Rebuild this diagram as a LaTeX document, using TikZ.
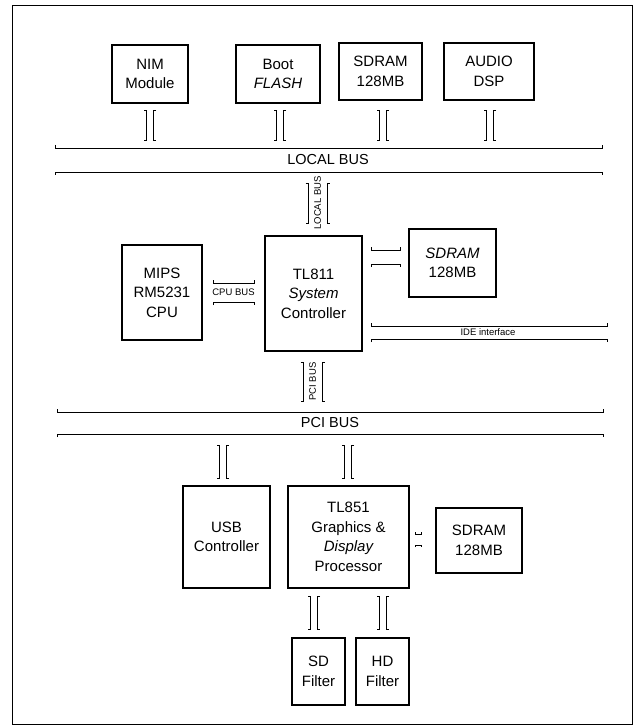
\documentclass[tikz,border=0pt]{standalone}
\usepackage{fontspec}
\setmainfont{Liberation Sans}
\newcommand\HBus[4]{% x1 x2 ytop ybot
  \draw[wire] (#1,#3-3)--(#1,#3)--(#2,#3)--(#2,#3-3);
  \draw[wire] (#1,#4+3)--(#1,#4)--(#2,#4)--(#2,#4+3);}
\newcommand\VBus[5]{% xl xr y1 y2 label
  \draw[wire] (#1-2.5,#3)--(#1,#3)--(#1,#4)--(#1-2.5,#4);
  \draw[wire] (#2+2.5,#3)--(#2,#3)--(#2,#4)--(#2+2.5,#4);
  \node[small,rotate=90] at ({(#1+#2)/2},{(#3+#4)/2}) {#5};}
\begin{document}
\begin{tikzpicture}[x=1pt,y=-1pt,
  box/.style={draw,line width=1.1pt,align=center,inner sep=0pt,font=\fontsize{15}{19.5}\selectfont},
  lbl/.style={font=\fontsize{14.5}{16}\selectfont,inner sep=0pt},
  small/.style={font=\fontsize{9.5}{11}\selectfont,inner sep=0pt},
  wire/.style={line width=0.8pt},
]
\useasboundingbox (0,0) rectangle (637,727);
\draw[line width=1pt] (12,6) rectangle (632,724);

% top row
\node[box,minimum width=76pt,minimum height=58pt] (nim) at (150,74) {NIM\\Module};
\node[box,minimum width=84pt,minimum height=58pt] (boot) at (278,74) {Boot\\\itshape FLASH};
\node[box,minimum width=83pt,minimum height=57pt] (sdramA) at (380.5,71.5) {SDRAM\\128MB};
\node[box,minimum width=90pt,minimum height=57pt] (audio) at (489,71.5) {AUDIO\\DSP};

\VBus{146.5}{153.5}{110}{140}{}
\VBus{276.5}{283.5}{110}{140}{}
\VBus{379.5}{386.5}{110}{140}{}
\VBus{486.5}{493.5}{110}{140}{}

% local bus
\HBus{55}{602}{148}{172}
\node[lbl] (lbus) at (328,160) {LOCAL BUS};
\VBus{308}{327}{183}{223}{LOCAL BUS}

% middle
\node[box,minimum width=97pt,minimum height=115pt] (tl811) at (313.5,293.5) {TL811\\\itshape System\\Controller};
\node[box,minimum width=80pt,minimum height=95pt] (mips) at (162,292.5) {MIPS\\RM5231\\CPU};
\node[box,minimum width=87pt,minimum height=68pt] (sdramB) at (452.5,263) {\itshape SDRAM\\128MB};

\HBus{213}{254}{283}{302}
\node[small] (cpubus) at (233.5,292.5) {CPU BUS};
\HBus{371}{400}{250}{264}
\HBus{371}{607}{326}{339}
\node[small] (ide) at (488,332.5) {IDE interface};

\VBus{303}{322}{362}{401}{PCI BUS}

% pci bus
\HBus{57}{603}{412}{434}
\node[lbl] (pbus) at (330,423) {PCI BUS};

\VBus{219.5}{226.5}{445}{478}{}
\VBus{344.5}{351.5}{445}{478}{}

% bottom
\node[box,minimum width=87pt,minimum height=102pt] (usb) at (226.5,537) {USB\\Controller};
\node[box,minimum width=121pt,minimum height=102pt] (tl851) at (348.5,537) {TL851\\Graphics \&\\{\itshape Display}\\Processor};
\node[box,minimum width=86pt,minimum height=65pt] (sdramC) at (479,540.5) {SDRAM\\128MB};
\draw[wire] (415,532)--(415,534)--(421,534)--(421,532);
\draw[wire] (415,547)--(415,545)--(421,545)--(421,547);

\VBus{310.5}{317.5}{596}{629}{}
\VBus{379.5}{386.5}{596}{629}{}

\node[box,minimum width=53pt,minimum height=67pt] (sd) at (318.5,671.5) {SD\\Filter};
\node[box,minimum width=53pt,minimum height=67pt] (hd) at (382.5,671.5) {HD\\Filter};
\end{tikzpicture}
\end{document}
